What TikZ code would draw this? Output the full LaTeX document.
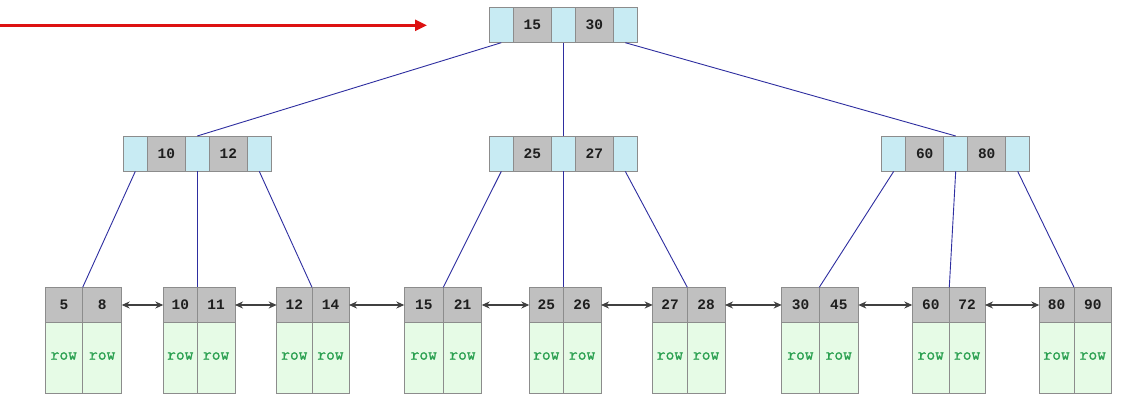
\documentclass[tikz,border=0pt]{standalone}
\usepackage{fontspec}
\setmonofont{Liberation Mono}
\newfontfamily\rowfont[FakeBold=1.2]{Latin Modern Mono}
\usetikzlibrary{arrows.meta}

\definecolor{ptrcell}{HTML}{C8EBF3}
\definecolor{keycell}{HTML}{C0C0C0}
\definecolor{rowcell}{HTML}{E6FBE6}
\definecolor{cellline}{HTML}{8C8C8C}
\definecolor{treeline}{HTML}{2E2EA0}
\definecolor{rowtext}{HTML}{2AA050}
\definecolor{keytext}{HTML}{1E1E1E}
\definecolor{linkline}{HTML}{404040}
\definecolor{entry}{HTML}{DD1111}

\tikzset{
  cell/.style={draw=cellline, line width=0.8pt, inner sep=0pt, outer sep=0pt,
    anchor=north west, minimum height=35.4pt},
  ptr/.style={cell, fill=ptrcell, minimum width=24pt},
  keyfont/.style={font=\ttfamily\bfseries\fontsize{14.5}{14.5}\selectfont, text=keytext},
  key/.style={cell, fill=keycell, minimum width=38pt, keyfont},
  leafkey/.style={cell, fill=keycell, keyfont},
  rowbox/.style={cell, fill=rowcell, minimum height=70.6pt,
    font=\rowfont\fontsize{17}{17}\selectfont, text=rowtext},
  link/.style={draw=treeline, line width=0.9pt},
  sibling/.style={draw=linkline, line width=1.1pt,
    {Stealth[length=8pt,width=7pt]}-{Stealth[length=8pt,width=7pt]}},
  entryarrow/.style={draw=entry, line width=2.6pt, -{Triangle[length=12pt,width=11pt]}}
}

% internal B+ tree node: name, left x, top y, first key, second key
\newcommand\treenode[5]{%
  \node[ptr] (#1p0) at (#2,#3) {};
  \node[key] (#1k1) at (#1p0.north east) {#4};
  \node[ptr] (#1p1) at (#1k1.north east) {};
  \node[key] (#1k2) at (#1p1.north east) {#5};
  \node[ptr] (#1p2) at (#1k2.north east) {};
}

\begin{document}
\begin{tikzpicture}[x=1pt, y=-1pt]
\useasboundingbox (0,0) rectangle (1133,411);
\fill[white] (0,0) rectangle (1133,411);

% entry pointer into the root
\coordinate (entryStart) at (0,25.3);
\coordinate (entryEnd) at (427,25.3);
\draw[entryarrow] (entryStart) -- (entryEnd);

% root and second level
\treenode{root}{489.3}{7.3}{15}{30}
\treenode{mL}{123.3}{136}{10}{12}
\treenode{mM}{489.3}{136}{25}{27}
\treenode{mR}{881.7}{136}{60}{80}

% leaves: index / left / divider / right / key a / key b
\foreach \i/\l/\d/\r/\a/\b in {
  1/45/82.7/121.7/5/8,
  2/163.3/197.3/235/10/11,
  3/276.7/312/349/12/14,
  4/404.3/443.3/481.7/15/21,
  5/529.3/563.3/601/25/26,
  6/652.7/687.3/725/27/28,
  7/781.7/819.3/858.3/30/45,
  8/912.3/949.3/985/60/72,
  9/1039.3/1074/1111.7/80/90}{
  \pgfmathsetmacro\wa{\d-\l}
  \pgfmathsetmacro\wb{\r-\d}
  \node[rowbox, minimum width=\wa pt] (ra\i) at (\l,322.7) {\raisebox{4pt}{row}};
  \node[rowbox, minimum width=\wb pt] (rb\i) at (\d,322.7) {\raisebox{4pt}{row}};
  \node[leafkey, minimum width=\wa pt] (la\i) at (\l,287.3) {\a};
  \node[leafkey, minimum width=\wb pt] (lb\i) at (\d,287.3) {\b};
}

% tree links
\draw[link] (rootp0.south) -- (mLp1.north);
\draw[link] (rootp1.south) -- (mMp1.north);
\draw[link] (rootp2.south) -- (mRp1.north);

\draw[link] (mLp0.south) -- (la1.north east);
\draw[link] (mLp1.south) -- (la2.north east);
\draw[link] (mLp2.south) -- (la3.north east);
\draw[link] (mMp0.south) -- (la4.north east);
\draw[link] (mMp1.south) -- (la5.north east);
\draw[link] (mMp2.south) -- (la6.north east);
\draw[link] (mRp0.south) -- (la7.north east);
\draw[link] (mRp1.south) -- (la8.north east);
\draw[link] (mRp2.south) -- (la9.north east);

% leaf chain
\foreach \i [evaluate=\i as \j using int(\i+1)] in {1,...,8}{
  \draw[sibling] (lb\i.east) -- (la\j.west);
}
\end{tikzpicture}
\end{document}
